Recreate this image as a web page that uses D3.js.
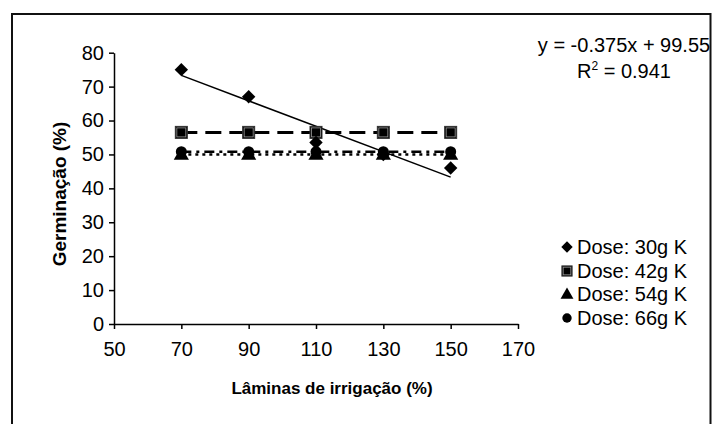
<!DOCTYPE html>
<html>
<head>
<meta charset="utf-8">
<script src="https://cdn.jsdelivr.net/npm/d3@7"></script>
<style>
  html, body { margin: 0; padding: 0; background: #fff; }
  svg { display: block; font-family: "Liberation Sans", Arial, sans-serif; }
</style>
</head>
<body>
<svg id="chart" width="712" height="424"></svg>
<script>
// Irrigation levels (%) and germination (%) for each potassium dose
const laminas = [70, 90, 110, 130, 150];
const dose30 = [75, 67, 53.5, 50, 46];
const dose42 = [56.5, 56.5, 56.5, 56.5, 56.5];
const dose54 = [50, 50, 50, 50, 50];
const dose66 = [50.8, 50.8, 50.8, 50.8, 50.8];
const seriesNames = ["Dose: 30g K", "Dose: 42g K", "Dose: 54g K", "Dose: 66g K"];
const xTicks = [50, 70, 90, 110, 130, 150, 170];
const yTicks = [0, 10, 20, 30, 40, 50, 60, 70, 80];
// Linear fit of the 30g series
const fitSlope = -0.375, fitIntercept = 99.55, fitR2 = 0.941;

const svg = d3.select("#chart");
const FONT = 20;

// outer chart frame
svg.append("rect").attr("x", 12).attr("y", 14).attr("width", 698.5).attr("height", 420)
  .attr("fill", "none").attr("stroke", "#111").attr("stroke-width", 2);

const x = d3.scaleLinear().domain([50, 170]).range([114, 518]);
const y = d3.scaleLinear().domain([0, 80]).range([324, 52.7]);

// axes
const xAxis = d3.axisBottom(x).tickValues(xTicks).tickSize(5).tickSizeOuter(0).tickPadding(13);
const yAxis = d3.axisLeft(y).tickValues(yTicks).tickSize(5).tickSizeOuter(0).tickPadding(5);

const gx = svg.append("g").attr("transform", `translate(0,${y(0)})`).call(xAxis);
const gy = svg.append("g").attr("transform", `translate(${x(50)},0)`).call(yAxis);
[gx, gy].forEach(g => {
  g.select(".domain").attr("stroke", "#000").attr("stroke-width", 1.5);
  g.selectAll(".tick line").attr("stroke", "#000").attr("stroke-width", 1.5);
  g.selectAll(".tick text").attr("fill", "#000").attr("font-size", FONT)
    .attr("font-family", "Liberation Sans, Arial, sans-serif");
});

// axis titles
svg.append("text").attr("x", 332).attr("y", 394).attr("text-anchor", "middle")
  .attr("font-size", 17).attr("font-weight", "bold").text("Lâminas de irrigação (%)");
svg.append("text").attr("transform", `translate(66,194) rotate(-90)`)
  .attr("text-anchor", "middle").attr("font-size", 19).attr("font-weight", "bold")
  .text("Germinação (%)");

// helper lines
const line = vals => d3.line().x((d, i) => x(laminas[i])).y(d => y(d))(vals);

// trend lines for the flat series
svg.append("path").attr("d", line(dose42)).attr("fill", "none").attr("stroke", "#000")
  .attr("stroke-width", 3).attr("stroke-dasharray", "16,8");
svg.append("path").attr("d", line(dose54)).attr("fill", "none").attr("stroke", "#000")
  .attr("stroke-width", 2.5).attr("stroke-dasharray", "3,4");
svg.append("path").attr("d", line(dose66)).attr("fill", "none").attr("stroke", "#000")
  .attr("stroke-width", 2.5).attr("stroke-dasharray", "10,5,3,5");

// linear fit for 30g
const fitEnds = [laminas[0], laminas[laminas.length - 1]];
svg.append("line")
  .attr("x1", x(fitEnds[0])).attr("y1", y(fitSlope * fitEnds[0] + fitIntercept))
  .attr("x2", x(fitEnds[1])).attr("y2", y(fitSlope * fitEnds[1] + fitIntercept))
  .attr("stroke", "#000").attr("stroke-width", 1.5);

// marker shapes
function drawDiamond(g, cx, cy, s = 1) {
  g.append("path").attr("d", d3.symbol().type(d3.symbolSquare).size(90 * s * s)())
    .attr("transform", `translate(${cx},${cy}) rotate(45)`).attr("fill", "#000");
}
function drawSquare(g, cx, cy, s = 1) {
  const h = 6 * s, k = 4.5 * s;
  g.append("rect").attr("x", cx - h).attr("y", cy - h).attr("width", 2 * h).attr("height", 2 * h)
    .attr("fill", "#000").attr("stroke", "#333").attr("stroke-width", 1);
  g.append("rect").attr("x", cx - k).attr("y", cy - k).attr("width", 2 * k).attr("height", 2 * k)
    .attr("fill", "none").attr("stroke", "#999").attr("stroke-width", 0.8);
}
function drawTriangle(g, cx, cy, s = 1) {
  g.append("path").attr("d", d3.symbol().type(d3.symbolTriangle).size(100 * s * s)())
    .attr("transform", `translate(${cx},${cy + 1})`).attr("fill", "#000");
}
function drawCircle(g, cx, cy, s = 1) {
  g.append("circle").attr("cx", cx).attr("cy", cy).attr("r", 5.5 * s).attr("fill", "#000");
}

const marks = svg.append("g");
laminas.forEach((l, i) => drawSquare(marks, x(l), y(dose42[i])));
laminas.forEach((l, i) => drawTriangle(marks, x(l), y(dose54[i])));
laminas.forEach((l, i) => drawCircle(marks, x(l), y(dose66[i])));
laminas.forEach((l, i) => drawDiamond(marks, x(l), y(dose30[i])));

// legend
const drawers = [drawDiamond, drawSquare, drawTriangle, drawCircle];
const legY = [247, 271, 294, 318];
const leg = svg.append("g");
seriesNames.forEach((n, i) => {
  drawers[i](leg, 567, legY[i], 0.85);
  leg.append("text").attr("x", 577).attr("y", legY[i]).attr("dy", "0.35em")
    .attr("font-size", FONT).text(n);
});

// fit equation
const eq = svg.append("g");
eq.append("text").attr("x", 624).attr("y", 52).attr("text-anchor", "middle")
  .attr("font-size", FONT).text(`y = ${fitSlope}x + ${fitIntercept}`);
const r2 = eq.append("text").attr("x", 624).attr("y", 78).attr("text-anchor", "middle")
  .attr("font-size", FONT);
r2.append("tspan").text("R");
r2.append("tspan").attr("dy", -8).attr("font-size", 12).text("2");
r2.append("tspan").attr("dy", 8).text(` = ${fitR2}`);
</script>
</body>
</html>
